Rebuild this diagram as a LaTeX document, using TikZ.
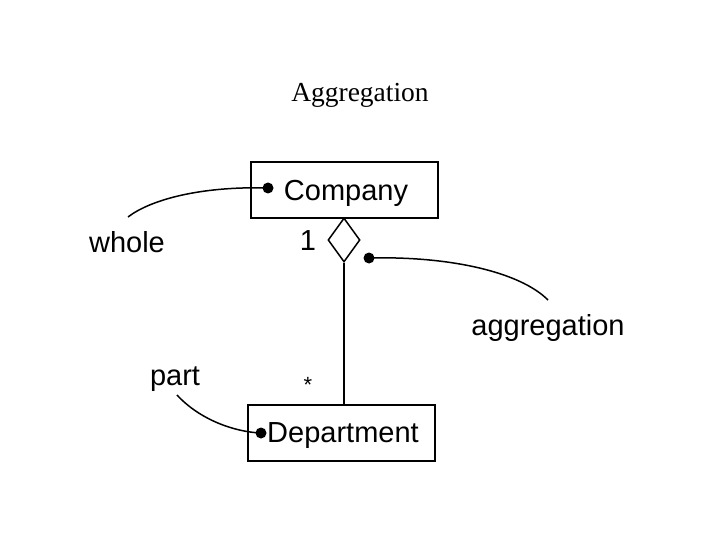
\documentclass[tikz,border=0pt]{standalone}
\usepackage{fontspec}
\setmainfont{Liberation Serif}
\setsansfont{Liberation Sans}
\usetikzlibrary{shapes.geometric}
\begin{document}
\begin{tikzpicture}[x=1pt,y=-1pt,
  classbox/.style={draw,line width=1.8pt,minimum width=187pt,minimum height=56pt,inner sep=0pt},
  lbl/.style={font=\sffamily\fontsize{29}{31}\selectfont,inner sep=0pt},
  dot/.style={circle,fill=black,inner sep=0pt,minimum size=11pt},
  conn/.style={line width=1.5pt},
  agg/.style={diamond,draw,line width=1.5pt,minimum width=32pt,minimum height=44pt,inner sep=0pt,aspect=0.727}]
\useasboundingbox (0,0) rectangle (720,540);
\node[font=\fontsize{27.5}{30}\selectfont] (title) at (360,95) {Aggregation};
\node[classbox] (company) at (344.5,190) {};
\node[lbl] (companytxt) at (346,193) {Company};
\node[dot] (cdot) at (268,188) {};
\node[classbox] (dept) at (341.5,433) {};
\node[lbl] (depttxt) at (343,436) {Department};
\node[dot] (ddot) at (261,433) {};
\node[agg] (dia) at (344,240) {};
\coordinate (deptTop) at (344,405);
\draw[conn] (dia.south) -- (deptTop);
\node[lbl] (one) at (308,241) {1};
\node[lbl,font=\sffamily\fontsize{22}{24}\selectfont] (star) at (308,385) {*};
\node[lbl] (whole) at (127,242) {whole};
\node[lbl] (aggl) at (548,328) {aggregation};
\node[lbl] (part) at (175,379) {part};
\node[dot] (adot) at (369,258) {};
\coordinate (wholeEnd) at (128,217);
\coordinate (aggEnd) at (548,300);
\coordinate (partEnd) at (177,395);
\draw[conn] (cdot.center) .. controls (200,186) and (150,200) .. (wholeEnd);
\draw[conn] (adot.center) .. controls (450,256) and (520,272) .. (aggEnd);
\draw[conn] (partEnd) .. controls (200,420) and (235,432) .. (ddot.center);
\end{tikzpicture}
\end{document}
